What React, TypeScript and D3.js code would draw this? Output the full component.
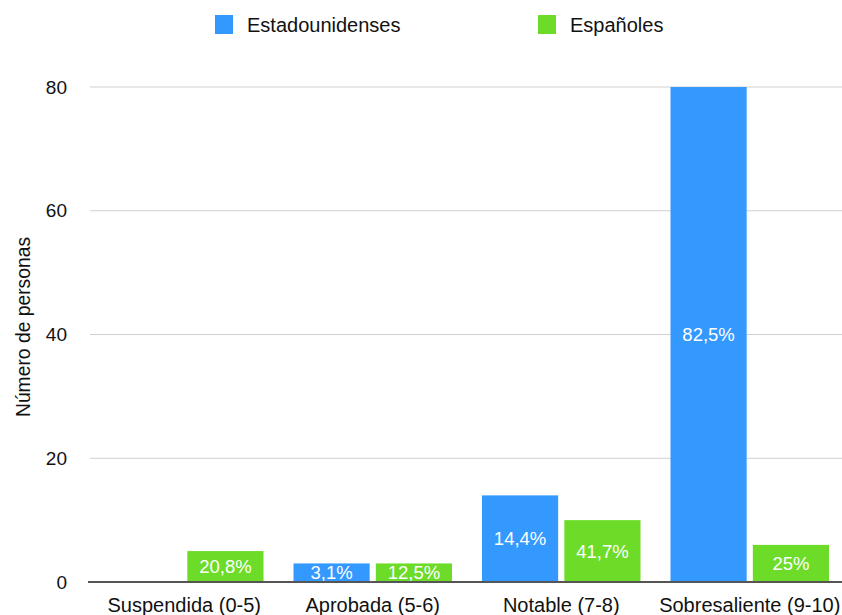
import React from "react";
import * as d3 from "d3";

const categories = ["Suspendida (0-5)", "Aprobada (5-6)", "Notable (7-8)", "Sobresaliente (9-10)"];
const seriesNames = ["Estadounidenses", "Españoles"];
const estadounidenses = [0, 3, 14, 80];
const espanoles = [5, 3, 10, 6];
const estadounidensesLabels = ["", "3,1%", "14,4%", "82,5%"];
const espanolesLabels = ["20,8%", "12,5%", "41,7%", "25%"];
const yTicks = [0, 20, 40, 60, 80];
const colors = ["#3399ff", "#6cdc29"];

const W = 842;
const H = 615;
const FONT = "'Liberation Sans', Arial, Helvetica, sans-serif";

export default function App() {
  const x0 = d3.scaleBand<string>().domain(categories).range([90, 844]).paddingInner(0).paddingOuter(0);
  const x1 = d3
    .scaleBand<string>()
    .domain(seriesNames)
    .range([15, x0.bandwidth() - 15])
    .paddingInner(0.075)
    .paddingOuter(0);
  const y = d3.scaleLinear().domain([0, 80]).range([582, 87]);

  const series = [
    { name: seriesNames[0], values: estadounidenses, labels: estadounidensesLabels, color: colors[0] },
    { name: seriesNames[1], values: espanoles, labels: espanolesLabels, color: colors[1] },
  ];

  const legendX = [215, 538];

  return (
    <svg width={W} height={H} style={{ position: "absolute", left: 0, top: 0, background: "#fff" }} fontFamily={FONT}>
      <rect x={0} y={0} width={W} height={H} fill="#fff" />
      {/* legend */}
      {series.map((s, i) => (
        <g key={s.name}>
          <rect x={legendX[i]} y={15} width={18} height={19} fill={s.color} />
          <text x={legendX[i] + 32} y={25} dominantBaseline="central" fontSize={20} fill="#111">
            {s.name}
          </text>
        </g>
      ))}
      {/* gridlines */}
      {yTicks.filter((t) => t !== 0).map((t) => (
        <line key={t} x1={90} x2={842} y1={y(t)} y2={y(t)} stroke="#d0d0d0" strokeWidth={1} />
      ))}
      {/* y tick labels */}
      {yTicks.map((t) => (
        <text key={t} x={67} y={y(t)} textAnchor="end" dominantBaseline="central" fontSize={19} fill="#111">
          {t}
        </text>
      ))}
      {/* y title */}
      <text
        transform={`translate(23, 327) rotate(-90)`}
        textAnchor="middle"
        dominantBaseline="central"
        fontSize={19.3}
        fill="#111"
      >
        Número de personas
      </text>
      {/* bars */}
      {categories.map((c, ci) => (
        <g key={c} transform={`translate(${x0(c)},0)`}>
          {series.map((s) => {
            const v = s.values[ci];
            if (v <= 0) return null;
            const bx = x1(s.name)!;
            const bw = x1.bandwidth();
            const top = y(v);
            const h = y(0) - top;
            return (
              <g key={s.name}>
                <rect x={bx} y={top} width={bw} height={h} fill={s.color} />
                {s.labels[ci] && (
                  <text
                    x={bx + bw / 2}
                    y={top + h / 2}
                    textAnchor="middle"
                    dominantBaseline="central"
                    fontSize={18.5}
                    fill="#fff"
                  >
                    {s.labels[ci]}
                  </text>
                )}
              </g>
            );
          })}
        </g>
      ))}
      {/* baseline */}
      <line x1={88} x2={842} y1={y(0)} y2={y(0)} stroke="#555" strokeWidth={2} />
      {/* x labels */}
      {categories.map((c) => (
        <text key={c} x={x0(c)! + x0.bandwidth() / 2} y={611.5} textAnchor="middle" fontSize={20} fill="#111">
          {c}
        </text>
      ))}
    </svg>
  );
}
